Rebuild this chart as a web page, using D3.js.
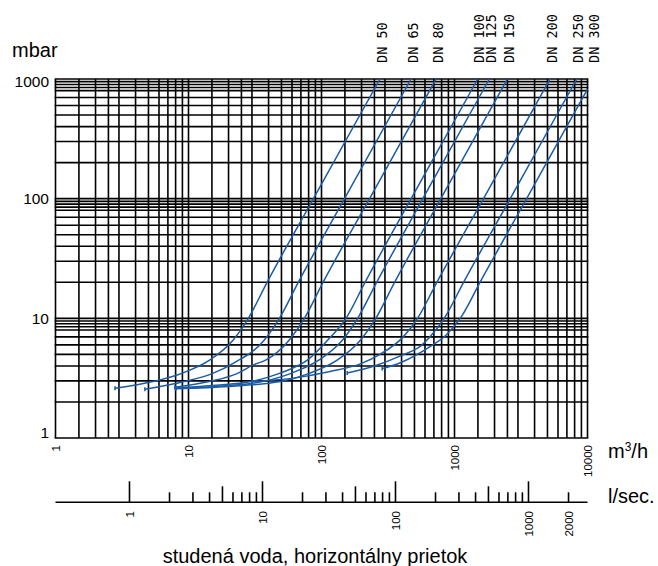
<!DOCTYPE html>
<html>
<head>
<meta charset="utf-8">
<script src="https://cdn.jsdelivr.net/npm/d3@7"></script>
<style>
  body { margin: 0; background: #fff; }
  svg { display: block; }
  text { font-family: "Liberation Sans", Arial, sans-serif; fill: #000; }
  .dn { font-family: "DejaVu Sans Mono", monospace; font-size: 13.5px; }
</style>
</head>
<body>
<svg id="chart" width="658" height="566"></svg>
<script>
'use strict';

// axes
var flowLabels = [1, 10, 100, 1000, 10000]
  , mbarLabels = [1, 10, 100, 1000]
  , flowSteps  = [1, 1.5, 2, 2.5, 3, 4, 5, 6, 7, 8, 9]
  , mbarSteps  = [1, 2, 3, 4, 5, 6, 7, 8, 8.5, 9, 9.5]
  , lsecTicks  = [1, 2, 3, 4, 5, 6, 7, 8, 9, 10, 20, 30, 40, 50, 60, 70, 80, 90,
                  100, 200, 300, 400, 500, 600, 700, 800, 900, 1000, 2000]
  , lsecLabels = [1, 10, 100, 1000, 2000]
  , sizes = ['DN 50', 'DN 65', 'DN 80', 'DN 100', 'DN 125', 'DN 150', 'DN 200', 'DN 250', 'DN 300'];

// [m3/h, mbar]
var dn50  = [[2.8, 2.6], [5.4, 2.96], [8.9, 3.47], [14.5, 4.49], [21.7, 6.6], [28.2, 10], [38.7, 19.7], [87, 100], [275, 1000]]
  , dn65  = [[4.7, 2.55], [9.3, 2.96], [15.2, 3.47], [21.7, 4.21], [37.2, 6.6], [48.3, 10], [66.4, 19.7], [149, 100], [471, 1000]]
  , dn80  = [[7.9, 2.65], [14.3, 2.96], [23.4, 3.47], [30.7, 4.08], [38.3, 4.49], [57.3, 6.6], [74.4, 10], [102, 19.7], [230, 100], [726, 1000]]
  , dn100 = [[8, 2.62], [15, 2.75], [29.4, 2.96], [48.3, 3.47], [78.7, 4.49], [116, 6.9], [153, 10], [211, 19.7], [472, 100], [1494, 1000]]
  , dn125 = [[8, 2.6], [18, 2.72], [36, 2.96], [59, 3.47], [96, 4.49], [144, 6.6], [187, 10], [258, 19.7], [578, 100], [1827, 1000]]
  , dn150 = [[8, 2.58], [20, 2.7], [49, 2.96], [81, 3.47], [132, 4.49], [197, 6.6], [256, 10], [352, 19.7], [789, 100], [2496, 1000]]
  , dn200 = [[30, 2.96], [60, 3.15], [116, 3.59], [200, 4.2], [275, 5], [412, 7], [536, 10.3], [737, 20], [1653, 100], [5226, 1000]]
  , dn250 = [[156, 3.5], [250, 4], [400, 4.9], [560, 5.9], [655, 7], [850, 10.3], [1170, 20], [2625, 100], [8300, 1000]]
  , dn300 = [[286, 3.8], [400, 4.3], [654, 5.8], [870, 7.3], [1130, 10.4], [1555, 20], [3486, 100], [10000, 823]];

var curves = [dn50, dn65, dn80, dn100, dn125, dn150, dn200, dn250, dn300];

var svg = d3.select('#chart')
  , x = d3.scaleLog().domain([1, 10000]).range([55.5, 587.5])
  , y = d3.scaleLog().domain([1, 1000]).range([438, 79])
  , lsec = function(v){ return x(v * 3.6); }   // l/s -> m3/h
  , blue = '#1a5ca8';

// grid
var vlines = [], hlines = [];
[1, 10, 100, 1000].forEach(function(d){
  flowSteps.forEach(function(s){ vlines.push(d * s); });
});
vlines.push(10000);
[1, 10, 100].forEach(function(d){
  mbarSteps.forEach(function(s){ hlines.push(d * s); });
});
hlines.push(1000);

var grid = svg.append('g').attr('stroke', '#000').attr('stroke-width', 1.6);

grid.selectAll('line.v').data(vlines).enter().append('line')
    .attr('class', 'v')
    .attr('x1', x).attr('x2', x)
    .attr('y1', y(1)).attr('y2', y(1000));

grid.selectAll('line.h').data(hlines).enter().append('line')
    .attr('class', 'h')
    .attr('x1', x(1) - 0.8).attr('x2', x(10000) + 0.8)
    .attr('y1', y).attr('y2', y);

// y labels
svg.append('g').selectAll('text').data(mbarLabels).enter().append('text')
    .attr('x', 49)
    .attr('y', function(d){ return Math.min(Math.max(y(d), 82), 433); })
    .attr('dy', '0.35em')
    .attr('text-anchor', 'end')
    .style('font-size', '15.5px')
    .text(function(d){ return d; });

svg.append('text')
    .attr('x', 12).attr('y', 57)
    .style('font-size', '20px')
    .text('mbar');

// x labels (m3/h)
svg.append('g').selectAll('text').data(flowLabels).enter().append('text')
    .attr('transform', function(d){ return 'translate(' + x(d) + ',445) rotate(-90)'; })
    .attr('dy', '0.35em')
    .attr('text-anchor', 'end')
    .style('font-size', '11.5px')
    .text(function(d){ return d; });

var unit = svg.append('text')
    .attr('x', 608).attr('y', 458)
    .style('font-size', '20px');
unit.append('tspan').text('m');
unit.append('tspan').attr('dy', -7).style('font-size', '12px').text('3');
unit.append('tspan').attr('dy', 7).text('/h');

// second axis (l/sec)
var ax = svg.append('g').attr('stroke', '#000').attr('stroke-width', 1.6);
ax.append('line')
    .attr('x1', x(1)).attr('x2', x(10000))
    .attr('y1', 502.3).attr('y2', 502.3);

ax.selectAll('line.t').data(lsecTicks).enter().append('line')
    .attr('class', 't')
    .attr('x1', lsec).attr('x2', lsec)
    .attr('y1', 502.3)
    .attr('y2', function(d){
      var m = d / Math.pow(10, Math.floor(Math.log10(d)));
      return 502.3 - (m === 1 ? 21 : m === 5 ? 16 : 10);
    });

svg.append('g').selectAll('text').data(lsecLabels).enter().append('text')
    .attr('transform', function(d){ return 'translate(' + lsec(d) + ',511) rotate(-90)'; })
    .attr('dy', '0.35em')
    .attr('text-anchor', 'end')
    .style('font-size', '11.5px')
    .text(function(d){ return d; });

svg.append('text')
    .attr('x', 608).attr('y', 503)
    .style('font-size', '20px')
    .text('l/sec.');

svg.append('text')
    .attr('x', 315).attr('y', 563)
    .attr('text-anchor', 'middle')
    .style('font-size', '20px')
    .text('studená voda, horizontálny prietok');

// curves
var line = d3.line()
    .x(function(d){ return x(d[0]); })
    .y(function(d){ return y(d[1]); })
    .curve(d3.curveMonotoneX);

var plot = svg.append('g').attr('fill', 'none').attr('stroke', blue).attr('stroke-width', 1.5);

plot.selectAll('path').data(curves).enter().append('path')
    .attr('d', line);

// little start marks
plot.selectAll('line').data(curves).enter().append('line')
    .attr('x1', function(c){ return x(c[0][0]); })
    .attr('x2', function(c){ return x(c[0][0]); })
    .attr('y1', function(c){ return y(c[0][1]) - 2; })
    .attr('y2', function(c){ return y(c[0][1]) + 2; });

// size labels at curve tops
svg.append('g').selectAll('text').data(curves).enter().append('text')
    .attr('class', 'dn')
    .attr('transform', function(c){
      var last = c[c.length - 1]
        , lx = x(last[0]) + (last[1] < 1000 ? 7 : 2);
      return 'translate(' + lx + ',63) rotate(-90)';
    })
    .attr('dy', '0.35em')
    .text(function(c, i){ return sizes[i]; });
</script>
</body>
</html>
